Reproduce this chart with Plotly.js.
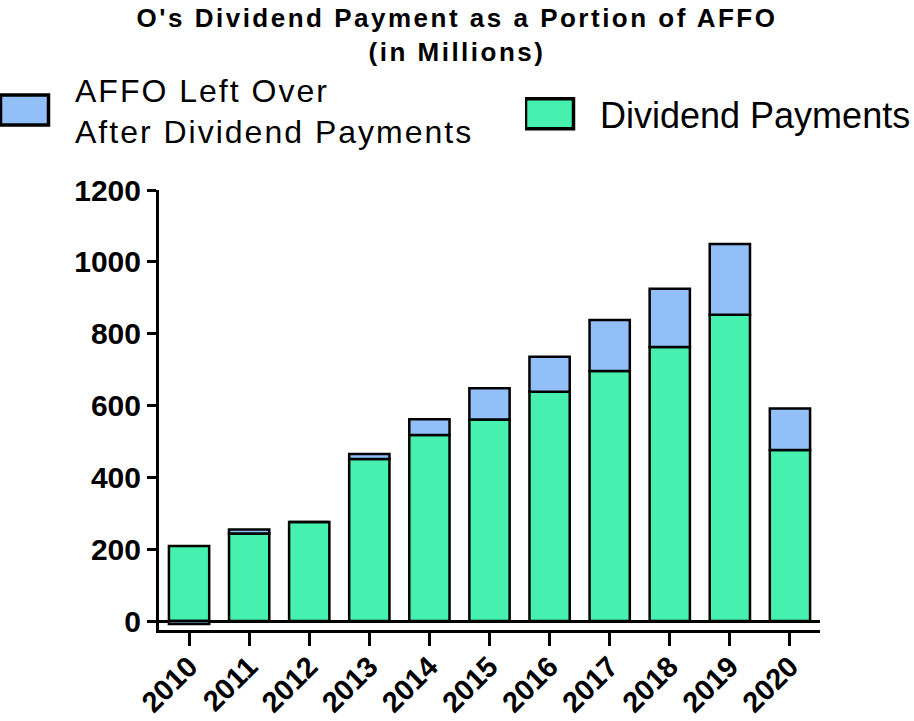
<!DOCTYPE html>
<html>
<head>
<meta charset="utf-8">
<script src="https://cdn.plot.ly/plotly-3.0.1.min.js"></script>
<style>
  html, body { margin: 0; padding: 0; background: #fff; }
  #chart { width: 914px; height: 721px; }
  /* O texto do original é um pouco mais espaçado */
  #chart .gtitle { letter-spacing: 2.5px; }
  #chart text.legendtext { letter-spacing: 2px; }
  #chart .legend .scrollbox { clip-path: none !important; }
</style>
</head>
<body>
<div id="chart"></div>
<script>
// Valores (milhões de US$)
const years = ['2010', '2011', '2012', '2013', '2014', '2015', '2016', '2017', '2018', '2019', '2020'];
const dividendPayments = [209, 244, 276, 451, 518, 561, 638, 696, 763, 853, 476];
const affoLeftOver = [-8, 11, 0, 14, 44, 87, 98, 142, 162, 197, 116];
const yTicks = [0, 200, 400, 600, 800, 1000, 1200];

const FONT = 'Liberation Sans, Arial, Helvetica, sans-serif';
const BLUE = '#93BFF9';
const GREEN = '#46F1AF';

const traces = [
  {
    type: 'bar',
    name: 'Dividend Payments',
    x: years,
    y: dividendPayments,
    legend: 'legend2',
    marker: { color: GREEN, line: { color: '#000', width: 2.5 } },
    hoverinfo: 'x+y'
  },
  {
    type: 'bar',
    name: 'AFFO Left Over<br>After Dividend Payments',
    x: years,
    y: affoLeftOver,
    legend: 'legend',
    marker: { color: BLUE, line: { color: '#000', width: 2.5 } },
    hoverinfo: 'x+y'
  }
];

const layout = {
  width: 914,
  height: 721,
  barmode: 'relative',
  bargap: 0.33,
  paper_bgcolor: '#fff',
  plot_bgcolor: '#fff',
  font: { family: FONT, color: '#000' },
  margin: { l: 159, r: 94, t: 190, b: 91, autoexpand: false },
  title: {
    text: "O's Dividend Payment as a Portion of AFFO<br>(in Millions)",
    font: { family: FONT, size: 26, weight: 'bold', color: '#000' },
    x: 0.5,
    xref: 'container',
    y: 0.962,
    yref: 'container',
    yanchor: 'top'
  },
  showlegend: true,
  legend: {
    x: 0,
    y: 0.847,
    xref: 'container',
    yref: 'container',
    xanchor: 'left',
    yanchor: 'middle',
    itemwidth: 65,
    bgcolor: 'rgba(0,0,0,0)',
    font: { family: FONT, size: 32, color: '#000' }
  },
  legend2: {
    x: 0.5744,
    y: 0.842,
    xref: 'container',
    yref: 'container',
    xanchor: 'left',
    yanchor: 'middle',
    itemwidth: 65,
    bgcolor: 'rgba(0,0,0,0)',
    font: { family: FONT, size: 36, color: '#000' }
  },
  xaxis: {
    type: 'category',
    range: [-0.5, 10.5],
    showline: true,
    linecolor: '#000',
    linewidth: 3,
    ticks: 'outside',
    ticklen: 13,
    tickwidth: 3,
    tickcolor: '#000',
    tickangle: -45,
    ticklabelstandoff: -8,
    showgrid: false,
    zeroline: false,
    automargin: false,
    tickfont: { family: FONT, size: 29, weight: 'bold', color: '#000' },
    fixedrange: true
  },
  yaxis: {
    range: [-25, 1200],
    tickvals: yTicks,
    ticktext: yTicks.map(String),
    showline: true,
    linecolor: '#000',
    linewidth: 3,
    ticks: 'outside',
    ticklen: 9,
    tickwidth: 3,
    tickcolor: '#000',
    showgrid: false,
    zeroline: true,
    zerolinecolor: '#000',
    zerolinewidth: 3,
    automargin: false,
    tickfont: { family: FONT, size: 30, weight: 'bold', color: '#000' },
    fixedrange: true
  }
};

const config = { displayModeBar: false, responsive: false, staticPlot: true };

Plotly.newPlot('chart', traces, layout, config).then(gd => {
  // Símbolos da legenda maiores, como no original
  gd.querySelectorAll('.legendpoints path').forEach(p => {
    p.setAttribute('d', 'M11,15H-37V-15H11Z');
    p.style.strokeWidth = '3.5px';
    p.style.stroke = '#000';
  });
});
</script>
</body>
</html>
